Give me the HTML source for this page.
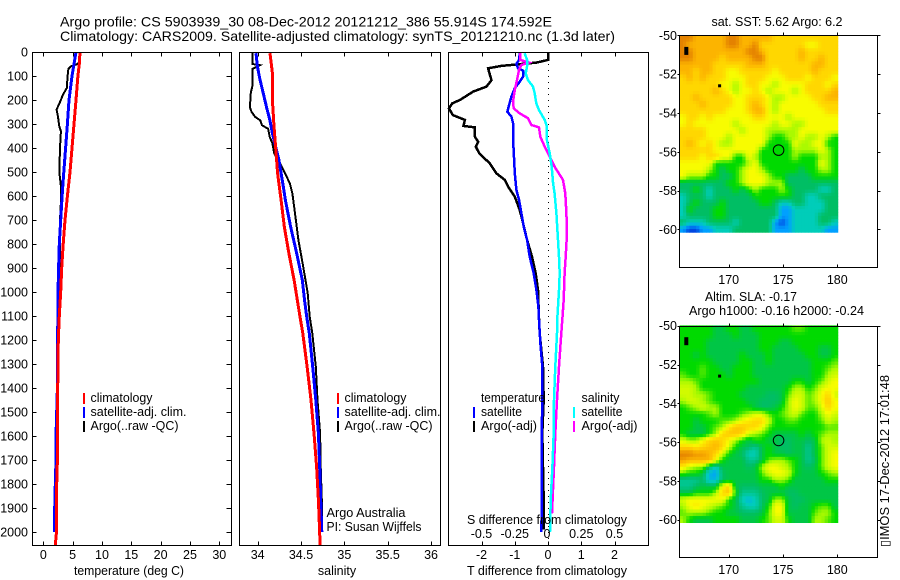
<!DOCTYPE html>
<html lang="en">
<head>
<meta charset="utf-8">
<title>Argo profile 5903939_30</title>
<style>
html,body{margin:0;padding:0;background:#fff;width:900px;height:580px;overflow:hidden}
svg{display:block}
text{font-family:"Liberation Sans",sans-serif;font-size:12.5px;fill:#000}
.title{font-size:14px}
</style>
</head>
<body>
<svg id="chart" width="900" height="580" viewBox="0 0 900 580" xmlns="http://www.w3.org/2000/svg">
<rect x="0" y="0" width="900" height="580" fill="#fff"/>
<g id="maps"></g>
<g id="series"></g>
<g id="axes"></g>

<text class="title" x="60" y="26.5" textLength="492" lengthAdjust="spacingAndGlyphs">Argo profile: CS 5903939_30 08-Dec-2012 20121212_386 55.914S 174.592E</text>
<text class="title" x="60" y="41" textLength="555" lengthAdjust="spacingAndGlyphs">Climatology: CARS2009. Satellite-adjusted climatology: synTS_20121210.nc (1.3d later)</text>

<text x="129" y="575" text-anchor="middle" textLength="110" lengthAdjust="spacingAndGlyphs">temperature (deg C)</text>
<text x="337" y="575" text-anchor="middle">salinity</text>
<text x="547" y="575" text-anchor="middle" textLength="160" lengthAdjust="spacingAndGlyphs">T difference from climatology</text>
<text x="547" y="524" text-anchor="middle" textLength="160" lengthAdjust="spacingAndGlyphs">S difference from climatology</text>

<g>
<rect x="83" y="393" width="2" height="11" fill="#f00"/>
<rect x="83" y="407" width="2" height="11" fill="#00f"/>
<rect x="83" y="421" width="2" height="11" fill="#000"/>
<text x="90.5" y="402" textLength="62" lengthAdjust="spacingAndGlyphs">climatology</text>
<text x="90.5" y="416" textLength="96" lengthAdjust="spacingAndGlyphs">satellite-adj. clim.</text>
<text x="90.5" y="430" textLength="88" lengthAdjust="spacingAndGlyphs">Argo(..raw -QC)</text>
</g>
<g>
<rect x="337" y="393" width="2" height="11" fill="#f00"/>
<rect x="337" y="407" width="2" height="11" fill="#00f"/>
<rect x="337" y="421" width="2" height="11" fill="#000"/>
<text x="344.5" y="402" textLength="62" lengthAdjust="spacingAndGlyphs">climatology</text>
<text x="344.5" y="416" textLength="96" lengthAdjust="spacingAndGlyphs">satellite-adj. clim.</text>
<text x="344.5" y="430" textLength="88" lengthAdjust="spacingAndGlyphs">Argo(..raw -QC)</text>
</g>
<text x="326.5" y="517" textLength="79" lengthAdjust="spacingAndGlyphs">Argo Australia</text>
<text x="326.5" y="531" textLength="95" lengthAdjust="spacingAndGlyphs">PI: Susan Wijffels</text>

<g>
<text x="481" y="402" textLength="64" lengthAdjust="spacingAndGlyphs">temperature</text>
<rect x="473" y="407" width="2" height="11" fill="#00f"/>
<text x="481" y="416" textLength="41" lengthAdjust="spacingAndGlyphs">satellite</text>
<rect x="473" y="421" width="2" height="11" fill="#000"/>
<text x="481" y="430" textLength="56" lengthAdjust="spacingAndGlyphs">Argo(-adj)</text>
<text x="581.5" y="402" textLength="38" lengthAdjust="spacingAndGlyphs">salinity</text>
<rect x="573" y="407" width="2" height="11" fill="#0ff"/>
<text x="581.5" y="416" textLength="41" lengthAdjust="spacingAndGlyphs">satellite</text>
<rect x="573" y="421" width="2" height="11" fill="#f0f"/>
<text x="581.5" y="430" textLength="56" lengthAdjust="spacingAndGlyphs">Argo(-adj)</text>
</g>

<text x="777" y="26" text-anchor="middle" textLength="131" lengthAdjust="spacingAndGlyphs">sat. SST: 5.62  Argo: 6.2</text>
<text x="751" y="301" text-anchor="middle" textLength="92" lengthAdjust="spacingAndGlyphs">Altim. SLA: -0.17</text>
<text x="776.5" y="315" text-anchor="middle" textLength="175" lengthAdjust="spacingAndGlyphs">Argo h1000: -0.16 h2000: -0.24</text>
<text transform="translate(889 547) rotate(-90)" textLength="172" lengthAdjust="spacingAndGlyphs">▯IMOS 17-Dec-2012 17:01:48</text>
</svg>

<script>
// ---- Depth axis ----
const depthTicks = [0,100,200,300,400,500,600,700,800,900,1000,1100,1200,1300,1400,1500,1600,1700,1800,1900,2000];

// ---- Temperature panel ----
const tempTicks = [0,5,10,15,20,25,30];
const tempClimDepth = [0,50,100,200,300,400,500,600,700,800,900,1000,1100,1200,1300,1400,1500,1600,1700,1800,1900,2000,2054];
const tempClimValue = [6.25,6.14,5.9,5.57,5.23,4.9,4.55,4.1,3.7,3.4,3.13,2.96,2.73,2.56,2.5,2.45,2.4,2.4,2.4,2.28,2.28,2.25,2.05];
const tempSatDepth = [0,50,100,200,300,400,500,600,700,800,900,1000,1100,1200,1300,1400,1500,1600,1700,1800,1900,2000];
const tempSatValue = [5.57,5.23,4.9,4.38,4.1,3.8,3.5,3.2,2.96,2.73,2.6,2.5,2.5,2.4,2.4,2.4,2.28,2.17,2.17,2.05,1.94,1.94];
const tempArgoDepth = [0,40,50,60,70,100,150,180,200,240,270,310,330,400,500,560,600,700,800,900,1000,1100,1200,1500,1800,1990];
const tempArgoValue = [6.3,6.25,5.8,4.67,4.27,4.15,4,3.3,3,2.27,2.5,2.73,3,2.85,2.73,3,3.05,2.85,2.85,2.85,2.7,2.7,2.5,2.4,2.28,2.17];

// ---- Salinity panel ----
const salTicks = [34,34.5,35,35.5,36];
const salClimDepth = [5,88,200,310,395,506,617,728,839,950,1033,1103,1172,1311,1450,1589,1728,1867,1950,2054];
const salClimValue = [34.142,34.17,34.17,34.188,34.207,34.23,34.27,34.307,34.36,34.42,34.457,34.488,34.52,34.57,34.615,34.65,34.68,34.7,34.71,34.72];
const salSatDepth = [5,60,116,172,228,283,339,394,450,505,561,617,728,839,950,1033,1103,1172,1311,1450,1589,1728,1867,2000];
const salSatValue = [33.98,33.996,34.027,34.065,34.1,34.14,34.17,34.207,34.245,34.27,34.295,34.32,34.38,34.45,34.515,34.54,34.565,34.595,34.635,34.67,34.7,34.715,34.727,34.74];
const salArgoDepth = [5,50,55,70,140,170,230,250,270,285,305,320,355,380,422,464,505,547,590,672,783,894,1005,1103,1172,1311,1450,1589,1728,1867,1990];
const salArgoValue = [33.94,33.94,34.027,33.94,33.94,33.92,33.91,33.93,33.97,34.03,34.05,34.12,34.14,34.17,34.19,34.257,34.315,34.37,34.4,34.43,34.47,34.525,34.577,34.6,34.63,34.67,34.69,34.72,34.727,34.74,34.74];

// ---- Difference panel ----
const diffTTicks = [-2,-1,0,1,2];
const diffSTicks = [-0.5,-0.25,0,0.25,0.5];
const diffSTickLabels = ['-0.5','-0.25','0','0.25','0.5'];
const dTSatDepth = [5,33,50,68,78,103,124,151,186,221,249,269,297,367,422,506,575,617,672,728,783,853,922,992,1061,1117,1214,1311,1450,1589,1728,1867,2000];
const dTSatValue = [-0.85,-0.87,-0.95,-0.9,-0.75,-0.75,-0.85,-1,-1.1,-1.17,-1.22,-1.1,-1.05,-1.05,-1.03,-1,-0.95,-0.87,-0.8,-0.73,-0.63,-0.55,-0.43,-0.35,-0.29,-0.27,-0.23,-0.17,-0.17,-0.19,-0.19,-0.19,-0.2];
const dTArgoDepth = [5,33,44,58,68,89,117,144,165,200,214,235,263,283,308,314,353,374,394,422,464,506,533,561,603,658,714,783,853,922,992,1110,1172,1311,1450,1589,1867,1990];
const dTArgoValue = [0,0,-0.35,-1.4,-1.8,-1.76,-1.7,-1.85,-2.25,-2.65,-2.88,-2.98,-2.86,-2.5,-2.54,-2.2,-2.2,-2.1,-2.17,-2.07,-1.75,-1.55,-1.3,-1.2,-1,-0.85,-0.75,-0.63,-0.48,-0.37,-0.3,-0.27,-0.25,-0.15,-0.13,-0.17,-0.13,-0.13];
const dSSatDepth = [5,33,61,89,117,144,172,214,242,283,311,367,422,478,547,589,672,783,853,922,992,1061,1110,1172,1311,1450,1589,1728,1867,2000];
const dSSatValue = [-0.175,-0.158,-0.158,-0.168,-0.15,-0.113,-0.1,-0.088,-0.068,-0.025,-0.008,-0.008,0.013,0.028,0.038,0.05,0.063,0.075,0.083,0.088,0.083,0.075,0.07,0.068,0.055,0.045,0.043,0.033,0.02,0.015];
const dSArgoDepth = [5,33,44,54,75,117,158,207,235,256,276,304,314,353,394,436,478,533,589,672,756,853,922,1033,1110,1172,1311,1450,1589,1728,1922];
const dSArgoValue = [-0.208,-0.208,-0.143,-0.2,-0.218,-0.233,-0.25,-0.263,-0.258,-0.213,-0.15,-0.125,-0.068,-0.058,-0.025,0.013,0.05,0.113,0.13,0.138,0.143,0.133,0.125,0.118,0.108,0.1,0.083,0.068,0.055,0.045,0.03];

// ---- Maps ----
const lonTicks = [170,175,180];
const latTicks = [-50,-52,-54,-56,-58,-60];
const argoPosition = [174.592,-55.914];
const islandLon = [166.1,169.12];
const islandLat = [-50.8,-52.6];
const sstGrid = [
[9,9,8,8,8,8,8,9,9,8,8,8,8,8,7,7,7,7,7,7,7,7,7,7],
[9,8,8,8,8,8,8,9,9,8,8,9,7,7,7,7,7,7,7,6,6,7,7,7],
[9,9,8,8,8,8,8,8,8,8,9,9,8,7,7,7,7,7,8,7,7,7,7,7],
[9,9,8,8,8,8,7,8,8,8,8,9,9,7,7,7,7,7,8,7,7,8,7,7],
[8,8,8,8,8,7,7,7,7,7,8,8,8,7,7,7,7,7,7,7,8,8,7,7],
[8,8,7,8,8,7,7,6,6,7,7,7,7,7,6,7,7,7,7,7,8,7,7,7],
[7,8,7,8,7,7,7,6,6,6,7,7,7,6,6,6,7,7,7,6,7,7,7,6],
[7,7,7,7,7,7,6,6,5,6,7,7,6,6,5,6,6,6,6,7,7,7,6,7],
[7,7,7,7,7,8,7,6,5,6,6,7,6,5,6,6,6,5,6,7,7,7,7,8],
[7,7,8,7,7,7,7,7,6,6,7,7,7,6,5,5,6,6,6,6,7,7,8,8],
[7,7,7,8,7,7,7,7,6,6,7,8,7,6,5,6,6,6,6,6,6,7,7,7],
[7,7,7,7,7,7,7,6,6,6,7,8,8,6,5,6,6,6,6,6,6,6,7,7],
[6,7,7,6,7,6,6,6,6,6,6,7,7,6,6,6,5,6,6,6,6,6,6,6],
[6,7,6,6,6,6,6,6,5,6,6,6,6,6,5,6,6,5,5,6,6,6,6,6],
[7,7,7,7,6,6,6,6,6,5,6,6,6,5,5,5,5,5,6,6,6,6,6,6],
[7,7,7,7,6,6,6,5,6,6,6,6,6,5,4,4,5,5,6,5,5,6,5,4],
[7,8,7,6,7,6,5,5,6,6,6,6,6,4,4,4,4,6,5,5,6,6,4,4],
[7,7,7,7,7,6,6,6,6,6,6,6,4,4,4,4,4,5,5,5,5,6,5,4],
[7,7,7,6,7,7,6,6,4,4,6,5,4,4,4,4,4,5,4,4,4,5,5,4],
[6,6,6,6,6,4,4,4,4,4,5,6,4,4,4,4,4,4,4,4,4,6,5,4],
[6,6,6,6,5,4,3,4,4,5,6,6,5,4,4,4,4,4,3,4,4,5,5,4],
[6,5,5,5,4,4,3,3,4,5,6,6,6,5,4,4,3,3,3,3,4,4,4,4],
[3,3,3,3,3,3,3,4,4,5,6,6,6,5,5,5,3,3,3,3,3,3,3,3],
[3,3,4,3,2,3,3,3,4,3,4,5,4,4,4,5,4,3,3,3,3,2,2,3],
[2,3,3,3,2,3,3,3,3,3,3,4,4,4,4,4,4,3,3,2,2,3,3,3],
[2,3,4,3,3,3,4,3,3,3,3,3,4,4,3,2,2,3,3,2,2,2,3,3],
[2,4,3,3,3,4,4,3,3,3,3,3,3,3,3,1,1,2,2,2,2,2,3,3],
[2,3,3,3,3,4,4,3,3,3,3,3,3,3,3,1,1,2,2,2,2,3,3,3],
[3,2,2,2,3,3,3,3,2,3,3,3,3,3,1,0,1,2,2,2,2,3,3,2],
[1,0,0,1,1,2,2,2,3,3,3,3,3,3,1,1,1,2,2,2,2,2,1,1]
];
const slaGrid = [
[4,4,4,4,4,3.3,3.3,4,4,3.3,3.3,4,4,4,4,4,4,4.5,4.5,4,4,4,4,4],
[4,4,4,4,4,3.3,3.3,3.3,4,3.3,3.3,3.3,4,4,4,4,4,4,4,4,4,4,4,4],
[4,4,4,4,3.3,3.3,3.3,3.3,3.3,3.3,3.3,3.3,4,4,4,3.3,3.3,4,4,4,4,4,4,4],
[4,4,4,4,3.3,3.3,3.3,3.3,3.3,3.3,3.3,3.3,4,4,3.3,3.3,3.3,3.3,4,4,4,3.3,3.3,4],
[4,4,3.3,4,3.3,3.3,3.3,3.3,3.3,4,3.3,3.3,3.3,4,3.3,3.3,3.3,3.3,3.3,4,4,3.3,3.3,4],
[4,4,4,4,4,3.3,3.3,3.3,3.3,4,4,3.3,3.3,4,3.3,3.3,3.3,3.3,3.3,3.3,4,4,4,4.5],
[4,4,4,4.5,4,4,3.3,3.3,4,4,4,3.3,3.3,3.3,3.3,3.3,3.3,3.3,3.3,3.3,4,4,4.5,5],
[4.5,4,4,4.5,4,4,4,3.3,4,4,4,3.3,3.3,3.3,3.3,3.3,3.3,3.3,3.3,3.3,4,4,5,5.5],
[5,5,4.5,4,4,4,4,4,4,4,4,4,3.3,3.3,3.3,3.3,3.3,4,4,3.3,4,4.5,5.5,6],
[5.5,5.5,5,4,4,4,4,4,4,4,3.3,3.3,3.3,3.3,3.3,3.3,4,5,5,4,4.5,5.5,6,6],
[5.5,5.5,5,5,4.5,4,4,4,4,3.3,3.3,3.3,3.3,3,3,3.3,4.5,5.5,5.5,4.5,5,6,7,5.5],
[5,5.5,5.5,5,4.5,4,4,4,4,4,3.3,3.3,3,3,3,3.3,5,6,5.5,4.5,5,6,7.5,6],
[4,4.5,5,5.5,5,5,4,4,4,4,4,3.3,3,3,3.3,4,5,6,5.5,4.5,4.5,5.5,7,6],
[4,4,4,4,4.5,5,4,4,4,4.5,5,5.5,5.5,4.5,4,4.5,5,5.5,4.5,4,4,5,6,5.5],
[4,4,3.3,4,4,4,4.5,4.5,5,6,6.5,7,7,5.5,4,4,4.5,4.5,4,4,4,4.5,5.5,5],
[4,4,3.3,3.3,4,4.5,5,6.5,7.5,7.5,7,7,6,4.5,4,4,4,4,4,4,4,4,4.5,4.5],
[4,3.3,3.3,3.3,4,5,7,7.5,7.5,7,5.5,5,4.5,4,3.3,3.3,3.3,3.3,4,3.3,4,4.5,5,5],
[5.5,5,5,6,7,7.5,7,6,5,4,3.3,4,4,3.3,3.3,3,3,3.3,3.3,3,3.3,5,5.5,5],
[7,7,6.5,7,7.5,8,7,5.5,4,3.3,3,2.5,3.3,4,3.3,3,3,3.3,3.3,2.5,3.3,4.5,5.5,5.5],
[9,9,8.5,8.5,8,7,5.5,4,3.3,3,2,2,3.3,4,3.3,3.3,3,3.3,3.3,2.5,3.3,4.5,5.5,6],
[8.5,8,8,8,8,6,4,3.3,3.3,3.3,2.5,2.5,3.3,4.5,5,5,4.5,4,3.3,2.5,3,4.5,5.5,6],
[6.5,5.5,5,5,3,2,3.3,3.3,3.3,3.3,3,3.3,5,6,6,5.5,5,4,3.3,3,3.3,4.5,5.5,6],
[4.5,4,4,3.3,1.5,1,3,3.3,3.3,3.3,3.3,3.3,4.5,5.5,6,6,5.5,4,3.3,3.3,3.3,4,4.5,5],
[2.5,2.5,2.5,3,1.5,1.5,3,3.3,3.3,3.3,3.3,3.3,4,4,5,5,4.5,3.3,3.3,3.3,3.3,3.3,4,4],
[2.5,2.5,3,3.3,3.3,3.3,6,7,3.3,3,3,3,3.3,3.3,3.3,4,3.3,3.3,3.3,3.3,3.3,3.3,3.3,3.3],
[3.3,3.3,4,4,4,5,7,7.5,4,2.5,2.5,2.5,3,3.3,3.3,3.3,3,3,3.3,3.3,3.3,3.3,3.3,3.3],
[5.5,6,6,6,6,6,6,4,3.3,2,1.5,2,3,3.3,5,5,3.3,3,3,3.3,3.3,3.3,3.3,3.3],
[5,6,6.5,6,5.5,5,4.5,4,3.3,2.5,2,2,3,4,6,6,3.3,3,3.3,3.3,4,4.5,4.5,3.3],
[4.5,5,5,5,4.5,4,4,3.3,3.3,3,3,3,3.3,4.5,6,6,3.3,3.3,3.3,3.3,4.5,5,5,4],
[5,4,3.3,3.3,3.3,4,4,4,4,3.3,3.3,3.3,4,4.5,5.5,5.5,4,3.3,3.3,3.3,5,5,4.5,4]
];
const colourStops = [[0,70,225],[0,160,255],[0,205,185],[0,190,100],[0,218,0],[170,250,0],[248,252,0],[255,215,0],[252,180,0],[228,130,0]];

// ---- Layout and scales ----
const NS = 'http://www.w3.org/2000/svg';
const plotTop = 52, plotBottom = 545;
const depthY = d => plotTop + d * 0.24;
const tempX = t => 43.3 + t * 5.867;
const salX = s => 257.7 + (s - 34) * 86.67;
const dTX = t => 548 + t * 33.25;
const dSX = s => 548 + s * 133;
const lonX = lon => 728.7 + (lon - 170) * 10.86;
const latY = (lat, top) => top + (-50 - lat) * 19.4;
const gridLonStart = 165.48, gridLonEnd = 180.05, gridLatEnd = -60.15;
const subdivide = 2;
const seriesLayer = document.getElementById('series');
const axesLayer = document.getElementById('axes');
const mapLayer = document.getElementById('maps');

function colourFor(level) {
  const v = Math.max(0, Math.min(colourStops.length - 1, level));
  const i = Math.min(colourStops.length - 2, Math.floor(v));
  const f = v - i;
  const c = colourStops[i].map((a, k) => Math.round(a + (colourStops[i + 1][k] - a) * f));
  return 'rgb(' + c.join(',') + ')';
}

function sampleGrid(grid, u, v) {
  const rows = grid.length, cols = grid[0].length;
  const cu = Math.max(0, Math.min(cols - 1, u));
  const cv = Math.max(0, Math.min(rows - 1, v));
  const c0 = Math.floor(cu), r0 = Math.floor(cv);
  const c1 = Math.min(cols - 1, c0 + 1), r1 = Math.min(rows - 1, r0 + 1);
  const fu = cu - c0, fv = cv - r0;
  const top = grid[r0][c0] * (1 - fu) + grid[r0][c1] * fu;
  const bot = grid[r1][c0] * (1 - fu) + grid[r1][c1] * fu;
  return top * (1 - fv) + bot * fv;
}

function drawProfile(name, depths, values, xScale, colour, width) {
  const el = document.createElementNS(NS, 'polyline');
  
  
  el.setAttribute('points', depths.map((d, i) => xScale(values[i]).toFixed(1) + ',' + depthY(d).toFixed(1)).join(' '));
  el.setAttribute('fill', 'none');
  el.setAttribute('stroke', colour);
  el.setAttribute('stroke-width', width);
  el.setAttribute('shape-rendering', 'crispEdges');
  seriesLayer.appendChild(el);
}

function drawLine(parent, name, x1, y1, x2, y2) {
  const el = document.createElementNS(NS, 'line');
  
  
  el.setAttribute('x1', Math.round(x1) + 0.5);
  el.setAttribute('y1', Math.round(y1) + 0.5);
  el.setAttribute('x2', Math.round(x2) + 0.5);
  el.setAttribute('y2', Math.round(y2) + 0.5);
  el.setAttribute('stroke', '#000');
  el.setAttribute('stroke-width', 1);
  el.setAttribute('shape-rendering', 'crispEdges');
  parent.appendChild(el);
}

function drawLabel(name, x, y, content, anchor) {
  const el = document.createElementNS(NS, 'text');
  
  
  el.setAttribute('x', x);
  el.setAttribute('y', y);
  el.setAttribute('text-anchor', anchor);
  el.textContent = content;
  axesLayer.appendChild(el);
}

function drawFrame(name, left, top, right, bottom) {
  const el = document.createElementNS(NS, 'rect');
  
  
  el.setAttribute('x', Math.round(left) + 0.5);
  el.setAttribute('y', Math.round(top) + 0.5);
  el.setAttribute('width', Math.round(right) - Math.round(left));
  el.setAttribute('height', Math.round(bottom) - Math.round(top));
  el.setAttribute('fill', 'none');
  el.setAttribute('stroke', '#000');
  el.setAttribute('stroke-width', 1);
  el.setAttribute('shape-rendering', 'crispEdges');
  axesLayer.appendChild(el);
}

function drawXAxis(prefix, ticks, scale) {
  ticks.forEach(t => {
    const x = scale(t);
    drawLine(axesLayer, prefix + '-top-tick', x, plotTop, x, plotTop + 4);
    drawLine(axesLayer, prefix + '-bottom-tick', x, plotBottom, x, plotBottom - 4);
    drawLabel(prefix + '-tick-label', x, 559, String(t), 'middle');
  });
}

function drawMap(prefix, grid, top) {
  const bottom = top + 231.5;
  const gx0 = lonX(gridLonStart), gx1 = lonX(gridLonEnd);
  const gy0 = latY(-50, top) - 0.3, gy1 = latY(gridLatEnd, top);
  const rows = grid.length * subdivide, cols = grid[0].length * subdivide;
  const cw = (gx1 - gx0) / cols, ch = (gy1 - gy0) / rows;
  for (let r = 0; r < rows; r++) {
    for (let c = 0; c < cols; c++) {
      const level = sampleGrid(grid, (c + 0.5) / subdivide - 0.5, (r + 0.5) / subdivide - 0.5);
      const el = document.createElementNS(NS, 'rect');
      
      
      el.setAttribute('x', (gx0 + c * cw).toFixed(2));
      el.setAttribute('y', (gy0 + r * ch).toFixed(2));
      el.setAttribute('width', (cw + 0.4).toFixed(2));
      el.setAttribute('height', (ch + 0.4).toFixed(2));
      el.setAttribute('fill', colourFor(level));
      mapLayer.appendChild(el);
    }
  }
  islandLon.forEach((lon, i) => {
    const big = i === 0;
    const el = document.createElementNS(NS, 'rect');
    
    
    el.setAttribute('x', (lonX(lon) - (big ? 2 : 1)).toFixed(1));
    el.setAttribute('y', (latY(islandLat[i], top) - (big ? 4 : 1.5)).toFixed(1));
    el.setAttribute('width', big ? 4 : 3);
    el.setAttribute('height', big ? 8 : 3);
    el.setAttribute('fill', '#000');
    mapLayer.appendChild(el);
  });
  const marker = document.createElementNS(NS, 'circle');
  
  
  marker.setAttribute('cx', lonX(argoPosition[0]));
  marker.setAttribute('cy', latY(argoPosition[1], top));
  marker.setAttribute('r', 5.3);
  marker.setAttribute('fill', 'none');
  marker.setAttribute('stroke', '#000');
  marker.setAttribute('stroke-width', 1);
  mapLayer.appendChild(marker);
  drawFrame(prefix + '-map-frame', 679.3, top, 877.3, bottom);
  lonTicks.forEach(lon => {
    const x = lonX(lon);
    drawLine(axesLayer, prefix + '-lon-top-tick', x, top - 3, x, top);
    drawLine(axesLayer, prefix + '-lon-bottom-tick', x, bottom - 3, x, bottom);
    drawLabel(prefix + '-lon-tick-label', x, bottom + 17, String(lon), 'middle');
  });
  latTicks.forEach(lat => {
    const y = latY(lat, top);
    drawLine(axesLayer, prefix + '-lat-left-tick', 677, y, 679, y);
    drawLine(axesLayer, prefix + '-lat-right-tick', 877, y, 880, y);
    drawLabel(prefix + '-lat-tick-label', 677, y + 4.5, String(lat), 'end');
  });
}

// ---- Temperature panel ----
drawProfile('temperature-argo-line', tempArgoDepth, tempArgoValue, tempX, '#000', 2);
drawProfile('temperature-satellite-line', tempSatDepth, tempSatValue, tempX, '#00f', 3);
drawProfile('temperature-climatology-line', tempClimDepth, tempClimValue, tempX, '#f00', 3);
drawFrame('temperature-plot-frame', 32.3, plotTop, 231.3, plotBottom);
drawXAxis('temperature', tempTicks, tempX);
depthTicks.forEach(d => {
  const y = depthY(d);
  drawLine(axesLayer, 'depth-left-tick', 32.3, y, 36, y);
  drawLine(axesLayer, 'depth-right-tick', 226, y, 231.3, y);
  drawLabel('depth-tick-label', 28, y + 4.5, String(d), 'end');
});

// ---- Salinity panel ----
drawProfile('salinity-argo-line', salArgoDepth, salArgoValue, salX, '#000', 2);
drawProfile('salinity-satellite-line', salSatDepth, salSatValue, salX, '#00f', 3);
drawProfile('salinity-climatology-line', salClimDepth, salClimValue, salX, '#f00', 3);
drawFrame('salinity-plot-frame', 239.3, plotTop, 439.7, plotBottom);
drawXAxis('salinity', salTicks, salX);

// ---- Difference panel ----
const zeroLine = document.createElementNS(NS, 'line');


zeroLine.setAttribute('x1', dTX(0) + 0.5);
zeroLine.setAttribute('x2', dTX(0) + 0.5);
zeroLine.setAttribute('y1', plotTop);
zeroLine.setAttribute('y2', plotBottom);
zeroLine.setAttribute('stroke', '#000');
zeroLine.setAttribute('stroke-width', 1);
zeroLine.setAttribute('stroke-dasharray', '1 5');
zeroLine.setAttribute('shape-rendering', 'crispEdges');
seriesLayer.appendChild(zeroLine);
drawProfile('t-difference-argo-line', dTArgoDepth, dTArgoValue, dTX, '#000', 2.5);
drawProfile('t-difference-satellite-line', dTSatDepth, dTSatValue, dTX, '#00f', 2.5);
drawProfile('s-difference-argo-line', dSArgoDepth, dSArgoValue, dSX, '#f0f', 2.5);
drawProfile('s-difference-satellite-line', dSSatDepth, dSSatValue, dSX, '#0ff', 2.5);
drawFrame('difference-plot-frame', 448.3, plotTop, 648.3, plotBottom);
drawXAxis('t-difference', diffTTicks, dTX);
diffSTicks.forEach((s, i) => {
  drawLabel('s-difference-tick-label', dSX(s) - (s === 0 ? 1 : 0), 538, diffSTickLabels[i], 'middle');
});

// ---- Maps ----
drawMap('sst', sstGrid, 35.4);
drawMap('sla', slaGrid, 325.7);
</script>
</body>
</html>
